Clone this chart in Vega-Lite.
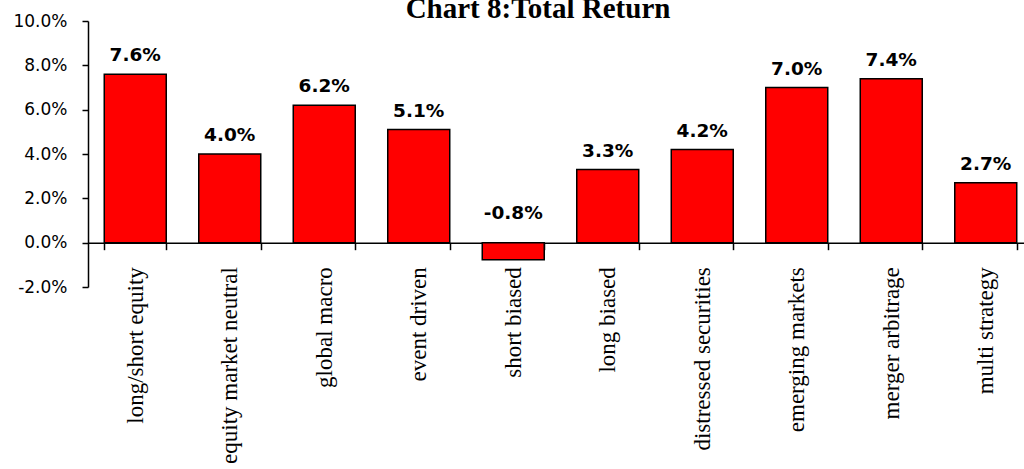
{
  "$schema": "https://vega.github.io/schema/vega-lite/v6.json",
  "autosize": "none",
  "width": 936,
  "height": 266,
  "padding": {"left": 88, "top": 21, "right": 0, "bottom": 182},
  "background": "white",
  "view": {"stroke": null},
  "title": {
    "text": "Chart 8:Total Return",
    "font": "Liberation Serif",
    "fontSize": 29,
    "fontWeight": "bold",
    "color": "black",
    "frame": "group",
    "offset": 2,
    "dx": -18,
    "dy": 14
  },
  "data": {
    "values": [
      {"strategy": "long/short equity", "ret": 7.6},
      {"strategy": "equity market neutral", "ret": 4.0},
      {"strategy": "global macro", "ret": 6.2},
      {"strategy": "event driven", "ret": 5.1},
      {"strategy": "short biased", "ret": -0.77},
      {"strategy": "long biased", "ret": 3.3},
      {"strategy": "distressed securities", "ret": 4.2},
      {"strategy": "emerging markets", "ret": 7.0},
      {"strategy": "merger arbitrage", "ret": 7.4},
      {"strategy": "multi strategy", "ret": 2.7}
    ]
  },
  "transform": [
    {"calculate": "replace(format(datum.ret, '.1f'), '\u2212', '-') + '%'", "as": "lbl"}
  ],
  "encoding": {
    "x": {
      "field": "strategy",
      "type": "nominal",
      "sort": null,
      "scale": {"range": [0, 945], "paddingInner": 0.344, "paddingOuter": 0.172},
      "axis": {
        "title": null,
        "offset": -44.3,
        "domainColor": "black",
        "domainWidth": 1.5,
        "tickColor": "black",
        "tickWidth": 1.5,
        "tickSize": 7,
        "tickBand": "extent",
        "labelAngle": -90,
        "labelAlign": "right",
        "labelBaseline": "middle",
        "labelFont": "Liberation Serif",
        "labelFontSize": 23,
        "labelColor": "black",
        "labelPadding": 17,
        "labelOverlap": false,
        "labelLimit": 400
      }
    }
  },
  "layer": [
    {
      "mark": {"type": "bar", "color": "#FF0000", "stroke": "black", "strokeWidth": 1.5},
      "encoding": {
        "y": {
          "field": "ret",
          "type": "quantitative",
          "scale": {"domain": [-2, 10], "nice": false, "zero": false},
          "axis": {
            "title": null,
            "values": [-2, 0, 2, 4, 6, 8, 10],
            "labelExpr": "replace(format(datum.value, '.1f'), '\u2212', '-') + '%'",
            "grid": false,
            "domainColor": "black",
            "domainWidth": 1.5,
            "tickColor": "black",
            "tickWidth": 1.5,
            "tickSize": 6,
            "labelFont": "DejaVu Sans",
            "labelFontSize": 17,
            "labelColor": "black",
            "labelPadding": 15
          }
        }
      }
    },
    {
      "transform": [{"filter": "datum.ret >= 0"}],
      "mark": {"type": "text", "font": "DejaVu Sans", "fontSize": 18.5, "fontWeight": "bold", "color": "black", "baseline": "alphabetic", "dy": -13},
      "encoding": {
        "y": {"field": "ret", "type": "quantitative"},
        "text": {"field": "lbl", "type": "nominal"}
      }
    },
    {
      "transform": [{"filter": "datum.ret < 0"}],
      "mark": {"type": "text", "font": "DejaVu Sans", "fontSize": 18.5, "fontWeight": "bold", "color": "black", "baseline": "alphabetic", "dy": -24},
      "encoding": {
        "y": {"datum": 0, "type": "quantitative"},
        "text": {"field": "lbl", "type": "nominal"}
      }
    }
  ]
}
